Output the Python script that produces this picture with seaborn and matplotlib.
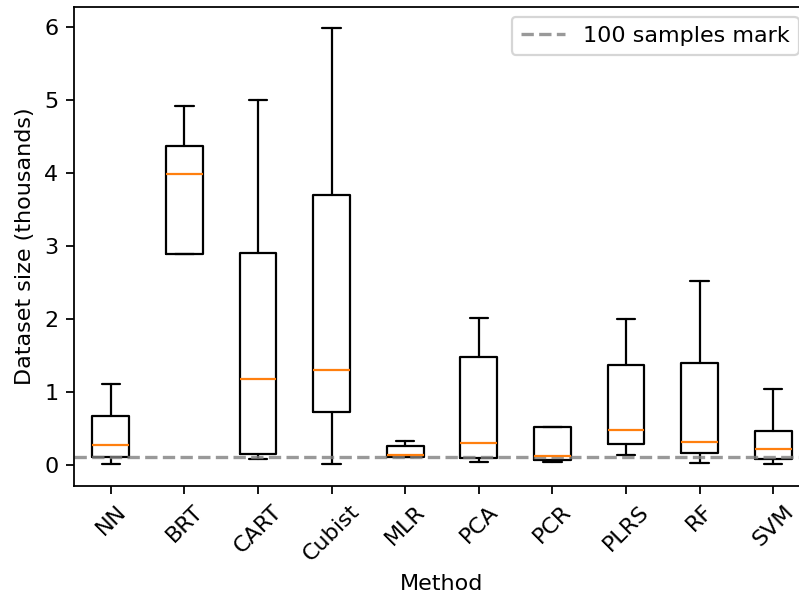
import matplotlib
matplotlib.use('Agg')
import matplotlib.pyplot as plt
import seaborn as sns

# Plot style: plain white axes with black ticks
sns.set_style('ticks', rc={'axes.edgecolor': 'black', 'xtick.color': 'black',
                           'ytick.color': 'black', 'text.color': 'black',
                           'axes.labelcolor': 'black'})
plt.rcParams['font.family'] = ['DejaVu Sans']

# Box statistics per method (dataset size, thousands)
methods = ['NN', 'BRT', 'CART', 'Cubist', 'MLR', 'PCA', 'PCR', 'PLRS', 'RF', 'SVM']
whislo = [0.01, 2.89, 0.08, 0.01, 0.10, 0.04, 0.04, 0.13, 0.02, 0.01]
q1 = [0.11, 2.89, 0.14, 0.72, 0.10, 0.09, 0.07, 0.28, 0.16, 0.08]
med = [0.27, 3.99, 1.18, 1.30, 0.13, 0.30, 0.12, 0.48, 0.31, 0.22]
q3 = [0.67, 4.37, 2.90, 3.70, 0.25, 1.47, 0.51, 1.36, 1.39, 0.46]
whishi = [1.11, 4.92, 5.00, 5.98, 0.32, 2.01, 0.51, 2.00, 2.52, 1.04]
mark_value = 0.1  # 100 samples

stats = []
for i, name in enumerate(methods):
    stats.append({'label': name, 'whislo': whislo[i], 'q1': q1[i], 'med': med[i],
                  'q3': q3[i], 'whishi': whishi[i], 'fliers': []})

fig = plt.figure(figsize=(799 / 160, 595 / 160), dpi=160)
ax = fig.add_axes([74 / 799, 1 - 485.7 / 595, (810 - 74) / 799, (485.7 - 6.7) / 595])

orange = sns.color_palette('tab10')[1]
ax.bxp(stats, showfliers=False,
       medianprops={'color': orange},
       boxprops={'color': 'black'},
       whiskerprops={'color': 'black'},
       capprops={'color': 'black'})

ax.axhline(mark_value, color='gray', linestyle='--', linewidth=1.5, alpha=0.8,
           label='100 samples mark')

ax.set_xticks(range(1, len(methods) + 1))
ax.set_xticklabels(methods, rotation=45)
ax.set_xlabel('Method')
ax.set_ylabel('Dataset size (thousands)')
ax.set_yticks(range(0, 7))

ax.legend(loc='upper right', bbox_to_anchor=(798.5 / 799, 1 - 17 / 595),
          bbox_transform=fig.transFigure, borderaxespad=0)

fig.savefig('out.png', dpi=160)
